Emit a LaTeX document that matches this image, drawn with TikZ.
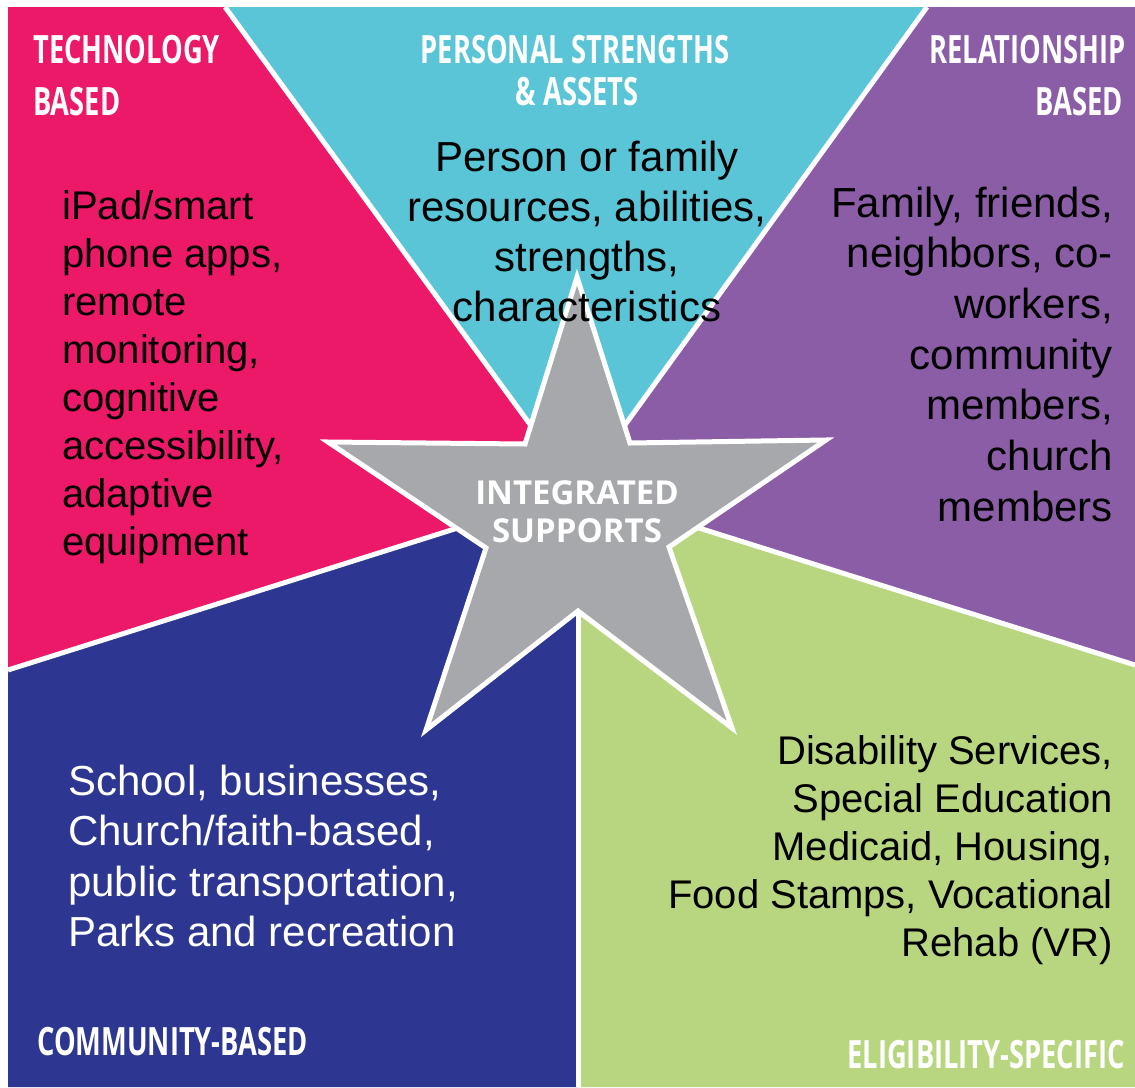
\documentclass[tikz,border=0pt]{standalone}
\usepackage{fontspec}
\setmainfont{Liberation Sans}
\newfontfamily\hdrfont{Open Sans}[FakeStretch=0.70]
\newfontfamily\starfont{Open Sans}
\definecolor{cpink}{HTML}{EC1868}
\definecolor{ccyan}{HTML}{59C5D7}
\definecolor{cpurple}{HTML}{8B5DA6}
\definecolor{cblue}{HTML}{2D3690}
\definecolor{cgreen}{HTML}{B8D680}
\definecolor{cgray}{HTML}{A7A8AB}
\begin{document}
\begin{tikzpicture}[x=1pt,y=-1pt,
  sep/.style={white,line width=5pt},
  hdr/.style={text=white,font=\hdrfont\bfseries\fontsize{39}{45}\selectfont,inner sep=0pt},
  body/.style={font=\fontsize{40}{48}\selectfont,inner sep=0pt},
  bigbody/.style={font=\fontsize{42}{50}\selectfont,inner sep=0pt}]
\fill[white] (0,0) rectangle (1135,1087);
\useasboundingbox (0,0) rectangle (1135,1087);
\coordinate (H) at (578,490);
\coordinate (tl) at (8,7);
\coordinate (pc) at (225,7);
\coordinate (cp) at (927,7);
\coordinate (tr) at (1135,7);
\coordinate (pg) at (1135,665);
\coordinate (br) at (1135,1087);
\coordinate (bg) at (578,1087);
\coordinate (bl) at (8,1087);
\coordinate (pb) at (8,670);
% regions
\fill[cpink] (tl) -- (pc) -- (H) -- (pb) -- cycle;
\fill[ccyan] (pc) -- (cp) -- (H) -- cycle;
\fill[cpurple] (cp) -- (tr) -- (pg) -- (H) -- cycle;
\fill[cgreen] (H) -- (pg) -- (br) -- (bg) -- cycle;
\fill[cblue] (pb) -- (H) -- (bg) -- (bl) -- cycle;
% separators
\draw[sep] (H) -- (pc);
\draw[sep] (H) -- (cp);
\draw[sep] (H) -- (pg);
\draw[sep] (H) -- (bg);
\draw[sep] (H) -- (pb);
% star
\draw[white,line width=5pt,fill=cgray,line join=miter]
  (577,277) -- (630,443) -- (826,440) -- (669,547) -- (732,728) -- (578,611)
  -- (426,730) -- (486,548) -- (328,442) -- (525,444) -- cycle;
\node[text=white,font=\starfont\bfseries\fontsize{33}{38}\selectfont,align=center,inner sep=0pt] (star) at (577,512) {INTEGRATED\\SUPPORTS};
% headers
\node[hdr,anchor=base west] (h1a) at (33,63) {TECHNOLOGY};
\node[hdr,anchor=base west] (h1b) at (33,115) {BASED};
\node[hdr,anchor=base] (h2a) at (575,63) {PERSONAL STRENGTHS};
\node[hdr,anchor=base] (h2b) at (577,105) {\&{} ASSETS};
\node[hdr,anchor=base east] (h3a) at (1126,63) {RELATIONSHIP};
\node[hdr,anchor=base east] (h3b) at (1123,115) {BASED};
\node[hdr,anchor=base west] (h4) at (37,1055) {COMMUNITY-BASED};
\node[hdr,anchor=base east] (h5) at (1125,1068) {ELIGIBILITY-SPECIFIC};
% body texts
\foreach \t [count=\i] in {{iPad/smart},{phone apps,},{remote},{monitoring,},{cognitive},{accessibility,},{adaptive},{equipment}}
  \node[body,anchor=base west] (tech\i) at (62,{219+48*(\i-1)}) {\t};
\foreach \t [count=\i] in {{Person or family},{resources, abilities,},{strengths,},{characteristics}}
  \node[bigbody,anchor=base] (pers\i) at (587,{171+50*(\i-1)}) {\t};
\foreach \t [count=\i] in {{Family, friends,},{neighbors, co-},{workers,},{community},{members,},{church},{members}}
  \node[bigbody,anchor=base east] (rel\i) at (1113,{217+50.7*(\i-1)}) {\t};
\foreach \t [count=\i] in {{School, businesses,},{Church/faith-based,},{public transportation,},{Parks and recreation}}
  \node[bigbody,anchor=base west,text=white] (com\i) at (68,{795+50.5*(\i-1)}) {\t};
\foreach \t [count=\i] in {{Disability Services,},{Special Education},{Medicaid, Housing,},{Food Stamps, Vocational},{Rehab (VR)}}
  \node[body,anchor=base east] (elig\i) at (1113,{764+48*(\i-1)}) {\t};
\end{tikzpicture}
\end{document}
